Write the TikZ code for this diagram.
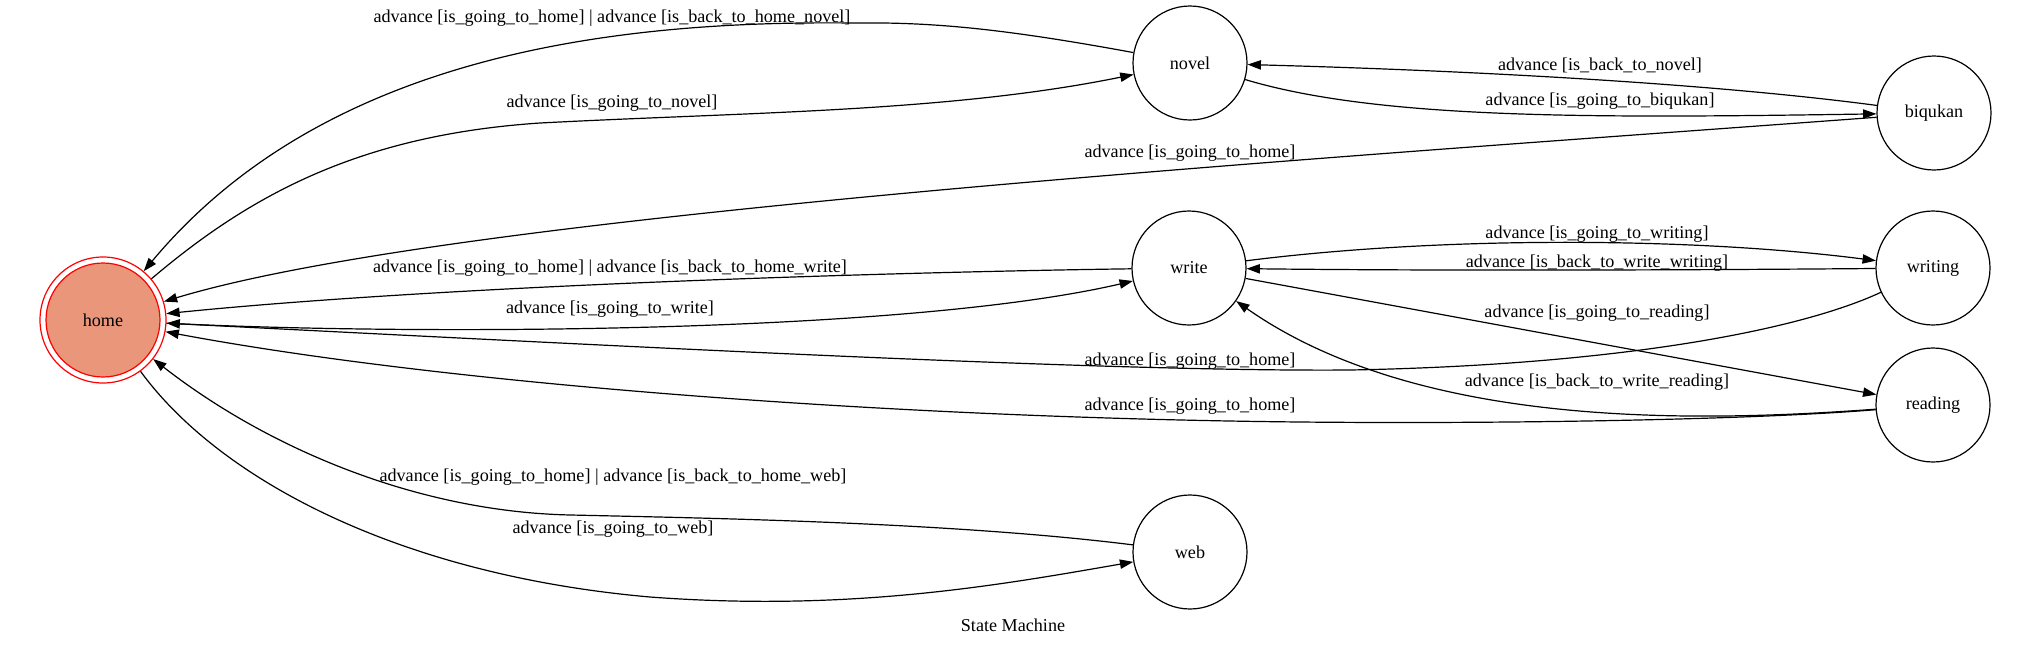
\documentclass[tikz,border=0pt]{standalone}
\usepackage{fontspec}
\setmainfont{Liberation Serif}
\usetikzlibrary{arrows.meta}
\definecolor{salmonfill}{HTML}{E9967A}
\newcommand\glabelfont{\fontsize{13.6}{16}\selectfont}
\begin{document}
\begin{tikzpicture}[x=0.75pt,y=-0.75pt,
  state/.style={circle, draw=black, line width=0.9pt, minimum size=85.5pt, inner sep=0pt, font=\glabelfont},
  edge/.style={line width=0.9pt, -{Triangle[length=10pt,width=7pt]}},
  elabel/.style={inner sep=0pt, font=\glabelfont}]
\useasboundingbox (0,0) rectangle (2028,647);
% nodes
\node[circle, draw=red, line width=0.9pt, minimum size=94.5pt, inner sep=0pt] (home) at (103,320) {};
\node[circle, draw=red, line width=0.9pt, fill=salmonfill, minimum size=85.5pt, inner sep=0pt, font=\glabelfont] (homein) at (home.center) {home};
\node[state] (novel) at (1190,63) {novel};
\node[state] (biqukan) at (1934,113) {biqukan};
\node[state] (write) at (1189,268) {write};
\node[state] (writing) at (1933,268) {writing};
\node[state] (reading) at (1933,405) {reading};
\node[state] (web) at (1190,552) {web};
% edges
\draw[edge] (novel) .. controls (1000,28) and (930,22) .. (853,23) .. controls (600,20) and (320,60) .. (home);
\draw[edge] (home) .. controls (250,195) and (360,135) .. (540,123) .. controls (750,112) and (950,112) .. (novel);
\draw[edge] (biqukan) .. controls (1700,82) and (1450,70) .. (novel);
\draw[edge] (novel) .. controls (1380,120) and (1600,118) .. (biqukan);
\draw[edge] (biqukan) .. controls (1300,160) and (450,215) .. (home);
\draw[edge] (write) .. controls (1450,235) and (1700,238) .. (writing);
\draw[edge] (writing) .. controls (1700,270) and (1450,271) .. (write);
\draw[edge] (write) .. controls (900,272) and (450,285) .. (home);
\draw[edge] (home) .. controls (400,335) and (900,335) .. (write);
\draw[edge] (write) -- (reading);
\draw[edge] (writing) .. controls (1800,330) and (1620,365) .. (1350,370) .. controls (1100,372) and (600,345) .. (home);
\draw[edge] (reading) .. controls (1700,422) and (1420,430) .. (write);
\draw[edge] (reading) .. controls (1750,420) and (1500,424) .. (1300,422) .. controls (900,418) and (450,385) .. (home);
\draw[edge] (web) .. controls (950,522) and (700,518) .. (571,515) .. controls (420,512) and (270,450) .. (home);
\draw[edge] (home) .. controls (220,480) and (400,575) .. (650,597) .. controls (850,612) and (1000,585) .. (web);
% labels
\node[elabel] (l1) at (612,18) {advance [is\_going\_to\_home] \textbar{} advance [is\_back\_to\_home\_novel]};
\node[elabel] (l2) at (612,103) {advance [is\_going\_to\_novel]};
\node[elabel] (l3) at (1600,65) {advance [is\_back\_to\_novel]};
\node[elabel] (l4) at (1600,101) {advance [is\_going\_to\_biqukan]};
\node[elabel] (l5) at (1190,153) {advance [is\_going\_to\_home]};
\node[elabel] (l6) at (1597,234) {advance [is\_going\_to\_writing]};
\node[elabel] (l7) at (1597,263) {advance [is\_back\_to\_write\_writing]};
\node[elabel] (l8) at (610,268) {advance [is\_going\_to\_home] \textbar{} advance [is\_back\_to\_home\_write]};
\node[elabel] (l9) at (610,309) {advance [is\_going\_to\_write]};
\node[elabel] (l10) at (1597,313) {advance [is\_going\_to\_reading]};
\node[elabel] (l11) at (1190,361) {advance [is\_going\_to\_home]};
\node[elabel] (l12) at (1597,382) {advance [is\_back\_to\_write\_reading]};
\node[elabel] (l13) at (1190,406) {advance [is\_going\_to\_home]};
\node[elabel] (l14) at (613,477) {advance [is\_going\_to\_home] \textbar{} advance [is\_back\_to\_home\_web]};
\node[elabel] (l15) at (613,529) {advance [is\_going\_to\_web]};
\node[elabel] (title) at (1013,625) {State Machine};
\end{tikzpicture}
\end{document}
